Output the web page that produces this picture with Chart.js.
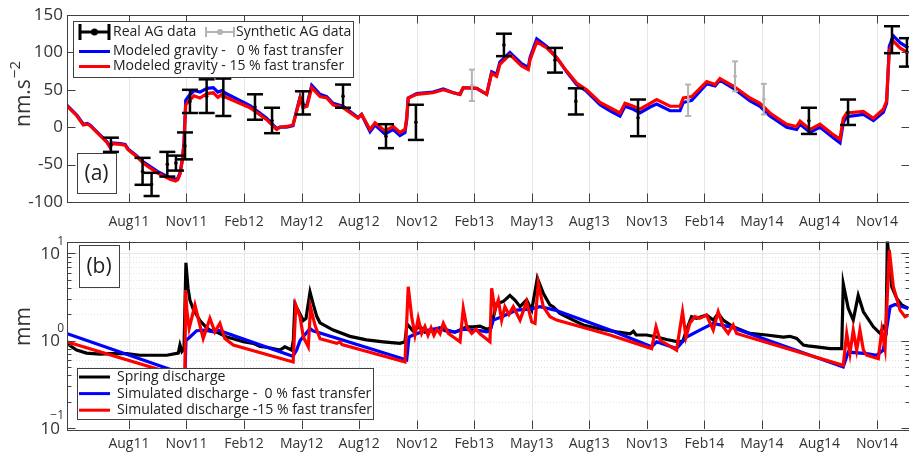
<!DOCTYPE html>
<html>
<head>
<meta charset="utf-8">
<title>AG gravity and spring discharge</title>
<script src="https://cdn.jsdelivr.net/npm/chart.js@4.4.1/dist/chart.umd.min.js"></script>
<style>
  html, body { margin: 0; padding: 0; background: #fff; overflow: hidden; }
  .panel { position: absolute; left: 0; width: 912px; }
  #boxA { top: 0; height: 232px; }
  #boxB { top: 232px; height: 224px; }
</style>
</head>
<body>
<div class="panel" id="boxA"><canvas id="gravity"></canvas></div>
<div class="panel" id="boxB"><canvas id="discharge"></canvas></div>
<script>
// time is in months counted from Jan 2011 (so Aug11 = 7)
const tickMonths = [7, 10, 13, 16, 19, 22, 25, 28, 31, 34, 37, 40, 43, 46];
const tickLabels = ['Aug11', 'Nov11', 'Feb12', 'May12', 'Aug12', 'Nov12', 'Feb13',
                    'May13', 'Aug13', 'Nov13', 'Feb14', 'May14', 'Aug14', 'Nov14'];
const gravTicks = [-100, -50, 0, 50, 100, 150];
const flowTicks = [0.1, 1, 10];
const flowTickExp = ['\u22121', '0', '1'];

// (a) modelled gravity, nm.s-2
const gravT = [3.75, 4.29, 4.62, 4.83, 4.97, 5.84, 6.02, 6.11, 6.55, 6.80,
  6.95, 7.35, 7.78, 8.48, 9.17, 9.43, 9.55, 9.66, 9.78, 9.87,
  9.96, 10.13, 10.39, 10.70, 11.07, 11.40, 11.64, 11.85, 12.06, 13.31,
  14.18, 14.70, 14.87, 15.22, 15.55, 15.74, 15.92, 16.07, 16.28, 16.53,
  16.96, 17.31, 17.64, 18.16, 18.94, 19.13, 19.57, 19.83, 20.35, 20.78,
  21.13, 21.39, 21.48, 21.56, 22.00, 22.85, 23.39, 23.91, 24.26, 24.43,
  25.13, 25.65, 25.91, 26.17, 26.34, 26.86, 27.47, 27.82, 27.91, 28.26,
  28.78, 29.30, 29.82, 30.34, 30.86, 31.56, 32.08, 32.60, 32.86, 33.30,
  33.64, 34.17, 34.51, 35.21, 35.73, 35.90, 36.34, 37.12, 37.56, 37.81,
  38.51, 39.38, 39.90, 40.42, 41.29, 41.81, 41.99, 42.51, 43.03, 43.72,
  44.07, 44.24, 44.42, 45.29, 45.81, 46.33, 46.50, 46.64, 46.85, 47.20,
  47.63];
const gravFast15 = [29, 15, 3, 4, 2, -20, -27, -22, -23, -24,
  -30, -38, -49, -61, -70, -72, -70, -63, -45, -23,
  30, 35, 42, 39, 45, 46, 40, 44, 40, 26,
  10, -3, 0, 1, 3, 21, 39, 26, 28, 53,
  41, 39, 30, 26, 12, 17, -3, 6, -5, 1,
  -7, -3, 12, 39, 44, 46, 50, 46, 44, 53,
  52, 44, 72, 68, 84, 97, 82, 77, 90, 114,
  106, 93, 75, 59, 50, 33, 26, 19, 32, 28,
  24, 32, 37, 28, 28, 39, 41, 61, 57, 65,
  55, 39, 32, 19, 4, 1, 8, -3, 4, -10,
  -16, 12, 19, 21, 12, 24, 35, 102, 115, 106,
  99];
const gravFast0 = [30, 16, 4, 5, 3, -19, -26, -21, -22, -23,
  -29, -37, -47, -59, -68, -70, -68, -61, -44, -20,
  36, 42, 49, 47, 52, 53, 47, 49, 45, 29,
  12, -2, 0, 0, 2, 22, 40, 28, 30, 56,
  44, 41, 32, 28, 13, 17, -6, 3, -9, -3,
  -11, -7, 10, 39, 45, 47, 51, 46, 44, 53,
  52, 44, 74, 71, 87, 100, 85, 80, 93, 118,
  108, 93, 74, 57, 48, 30, 22, 15, 28, 24,
  19, 27, 31, 22, 22, 33, 36, 58, 55, 63,
  52, 35, 28, 15, 0, -3, 4, -7, 0, -14,
  -21, 6, 14, 17, 9, 20, 32, 108, 122, 113,
  106];

// absolute gravimeter measurements (bar ends)
const agT = [6.06, 7.71, 8.18, 9.00, 9.45, 9.92, 10.18, 11.05, 11.92, 13.57, 14.46, 16.07,
  18.16, 20.40, 21.96, 26.55, 29.21, 30.30, 33.54, 42.45, 44.49, 46.78, 47.56];
const agLow = [-33, -77, -92, -66, -58, -43, 19, 19, 15, 10, -8, 17,
  26, -28, -17, 95, 73, 17, -12, -9, 3, 99, 81];
const agHigh = [-14, -41, -61, -33, -38, -7, 50, 64, 65, 44, 26, 48,
  57, 4, 30, 125, 106, 52, 37, 26, 37, 135, 119];
const synT = [24.88, 36.15, 38.60, 40.10];
const synLow = [35, 15, 48, 17];
const synHigh = [77, 57, 88, 58];

// (b) discharge, mm  [month, value]
const springDischarge = [[3.75, 0.93], [4.27, 0.78], [4.79, 0.72], [5.49, 0.70], [6.01, 0.71],
  [6.88, 0.71], [7.57, 0.68], [8.97, 0.68], [9.57, 0.72], [9.66, 0.89], [9.76, 0.75], [9.87, 0.80],
  [9.97, 7.8], [10.08, 4.0], [10.18, 2.9], [10.35, 2.3], [10.70, 1.7], [11.05, 1.4], [11.22, 1.32],
  [11.57, 1.25], [12.09, 1.1], [12.44, 1.05], [12.96, 0.97], [13.48, 0.93], [13.83, 0.86],
  [14.18, 0.84], [14.87, 0.78], [15.13, 0.85], [15.48, 0.78], [15.57, 1.0], [15.65, 2.6],
  [15.83, 2.2], [16.09, 1.7], [16.23, 1.8], [16.44, 3.6], [16.61, 2.6], [16.79, 1.9], [16.96, 1.6],
  [17.65, 1.32], [18.52, 1.12], [19.39, 1.02], [20.26, 0.97], [21.13, 0.93], [21.39, 0.97],
  [21.48, 1.44], [21.56, 1.5], [21.80, 1.3], [22.17, 1.45], [22.43, 1.25], [22.87, 1.32],
  [23.21, 1.4], [23.48, 1.3], [24.00, 1.25], [24.61, 1.44], [24.95, 1.44], [25.30, 1.47],
  [25.65, 1.35], [25.87, 1.4], [26.17, 2.67], [26.51, 2.8], [26.86, 3.3], [27.12, 2.92],
  [27.39, 2.45], [27.73, 2.92], [28.00, 2.24], [28.29, 5.2], [28.60, 3.5], [28.95, 2.56],
  [29.12, 2.45], [29.47, 2.05], [29.82, 1.88], [30.16, 1.72], [30.69, 1.51], [31.56, 1.36],
  [32.43, 1.26], [33.13, 1.2], [33.30, 1.28], [33.44, 1.16], [33.99, 1.16], [34.51, 1.1],
  [35.03, 1.03], [35.64, 0.97], [35.88, 0.99], [36.07, 1.32], [36.33, 1.88], [36.59, 1.8],
  [37.11, 1.96], [37.46, 1.72], [37.72, 2.05], [37.98, 1.72], [38.50, 1.44], [39.37, 1.21],
  [40.24, 1.16], [41.11, 1.1], [41.46, 1.12], [41.81, 1.06], [42.16, 0.89], [42.40, 0.87],
  [42.85, 0.85], [43.55, 0.81], [44.16, 0.81], [44.24, 4.5], [44.50, 2.35], [44.76, 1.72],
  [45.02, 3.3], [45.29, 2.14], [45.81, 1.44], [46.16, 1.21], [46.33, 1.44], [46.47, 1.3],
  [46.54, 14], [46.77, 4.15], [47.03, 3.05], [47.29, 2.56], [47.63, 2.34]];
const simFast0 = [[3.75, 1.21], [9.92, 0.41], [9.97, 1.0], [10.18, 1.1], [10.53, 1.3], [10.96, 1.32],
  [11.40, 1.26], [11.66, 1.32], [15.39, 0.68], [15.55, 0.66], [15.74, 0.78], [15.92, 1.0],
  [16.44, 1.38], [16.59, 1.3], [21.48, 0.6], [21.60, 1.1], [21.82, 1.16], [22.43, 1.3],
  [23.21, 1.4], [24.00, 1.25], [24.40, 1.35], [25.30, 1.3], [25.65, 1.26], [25.82, 1.3],
  [26.00, 1.72], [26.50, 1.9], [27.21, 2.24], [27.91, 2.3], [28.43, 2.45], [29.21, 2.24],
  [32.08, 1.32], [34.25, 0.85], [34.51, 0.97], [35.55, 0.81], [36.07, 1.1], [36.76, 1.32],
  [37.46, 1.58], [38.33, 1.44], [44.24, 0.5], [44.50, 0.74], [45.46, 0.71], [45.98, 0.68],
  [46.33, 0.78], [46.68, 2.45], [46.94, 2.6], [47.63, 2.34]];
const simFast15 = [[3.75, 0.97], [9.92, 0.38], [9.95, 3.8], [10.02, 2.2], [10.14, 1.38],
  [10.44, 2.56], [10.87, 1.06], [11.22, 1.8], [11.48, 1.26], [11.74, 1.58], [12.00, 1.06],
  [12.44, 0.89], [15.56, 0.57], [15.70, 2.56], [15.92, 1.88], [16.09, 1.1], [16.35, 0.85],
  [16.47, 2.4], [16.70, 1.5], [16.96, 1.05], [17.83, 0.93], [18.00, 0.97], [18.11, 0.9],
  [21.39, 0.57], [21.56, 4.15], [21.74, 1.88], [21.91, 1.16], [22.08, 1.8], [22.26, 1.21],
  [22.43, 1.45], [22.59, 1.15], [22.75, 1.4], [22.90, 1.15], [23.06, 1.35], [23.22, 1.2],
  [23.39, 1.58], [23.65, 1.21], [23.91, 1.1], [24.26, 0.97], [24.43, 2.34], [24.61, 1.44],
  [24.87, 1.21], [25.10, 1.35], [25.30, 1.2], [25.82, 0.97], [25.91, 3.98], [26.08, 2.24],
  [26.26, 2.92], [26.43, 1.72], [26.60, 2.45], [26.81, 2.0], [27.04, 2.45], [27.39, 1.72],
  [27.73, 2.79], [28.00, 1.64], [28.17, 1.58], [28.34, 4.54], [28.60, 2.45], [28.95, 1.88],
  [29.30, 1.72], [32.08, 1.16], [34.25, 0.81], [34.48, 1.44], [34.69, 1.01], [35.55, 0.78],
  [35.86, 2.14], [36.04, 1.1], [36.24, 1.58], [36.50, 1.88], [36.76, 1.8], [37.11, 1.96],
  [37.46, 1.32], [37.72, 2.14], [37.98, 1.44], [38.24, 1.21], [38.50, 1.51], [38.68, 1.21],
  [44.24, 0.52], [44.42, 1.21], [44.59, 0.71], [44.76, 1.32], [44.94, 0.78], [45.11, 1.32],
  [45.29, 0.78], [45.46, 0.68], [46.07, 0.62], [46.25, 1.32], [46.42, 0.81], [46.64, 11],
  [46.85, 4.15], [47.20, 2.24], [47.46, 1.88], [47.63, 1.96]];

const FONT = '"Open Sans", "Liberation Sans", sans-serif';
const INK = '#333';
const FRAME = '#404040';

function hline(ctx, x1, x2, y) { ctx.beginPath(); ctx.moveTo(x1, y); ctx.lineTo(x2, y); ctx.stroke(); }
function vline(ctx, x, y1, y2) { ctx.beginPath(); ctx.moveTo(x, y1); ctx.lineTo(x, y2); ctx.stroke(); }
const snap = v => Math.round(v) + 0.5;

function logMinors() {
  const out = [];
  [0.1, 1].forEach(d => { for (let k = 2; k <= 9; k++) out.push(d * k); });
  return out;
}

function drawGrid(chart, logGrid) {
  const { ctx, chartArea: a, scales: { x, y } } = chart;
  ctx.save();
  ctx.lineWidth = 1;
  ctx.strokeStyle = '#e6e6e6';
  tickMonths.forEach(m => vline(ctx, snap(x.getPixelForValue(m)), a.top, a.bottom));
  if (logGrid) {
    [1, 10].forEach(v => hline(ctx, a.left, a.right, snap(y.getPixelForValue(v))));
    ctx.strokeStyle = '#e2e2e2';
    ctx.setLineDash([1, 2]);
    logMinors().forEach(v => hline(ctx, a.left, a.right, snap(y.getPixelForValue(v))));
  }
  ctx.restore();
}

function drawFrame(chart, yMajor, yMinor) {
  const { ctx, chartArea: a, scales: { x, y } } = chart;
  ctx.save();
  ctx.strokeStyle = FRAME;
  ctx.lineWidth = 1;
  tickMonths.forEach(m => {
    const px = snap(x.getPixelForValue(m));
    vline(ctx, px, a.bottom, a.bottom - 8.5);
    vline(ctx, px, a.top, a.top + 8.5);
  });
  yMajor.forEach(v => {
    const py = snap(y.getPixelForValue(v));
    hline(ctx, a.left, a.left + 8.5, py);
    hline(ctx, a.right - 8.5, a.right, py);
  });
  yMinor.forEach(v => {
    const py = snap(y.getPixelForValue(v));
    hline(ctx, a.left, a.left + 4.5, py);
    hline(ctx, a.right - 4.5, a.right, py);
  });
  ctx.strokeRect(snap(a.left), snap(a.top), Math.round(a.right - a.left), Math.round(a.bottom - a.top));
  ctx.restore();
}

function drawTag(ctx, text, x, y, w, h) {
  ctx.save();
  ctx.fillStyle = '#fff';
  ctx.fillRect(x, y, w, h);
  ctx.strokeStyle = FRAME;
  ctx.lineWidth = 1;
  ctx.strokeRect(x + 0.5, y + 0.5, w, h);
  ctx.fillStyle = '#222';
  ctx.font = '21px ' + FONT;
  ctx.textAlign = 'center';
  ctx.textBaseline = 'middle';
  ctx.fillText(text, x + w / 2, y + h / 2 + 1);
  ctx.restore();
}

function drawYTitle(ctx, main, sup, baseX, centerY) {
  ctx.save();
  ctx.font = '21px ' + FONT;
  const w1 = ctx.measureText(main).width;
  ctx.font = '15px ' + FONT;
  const w2 = sup ? ctx.measureText(sup).width + 1 : 0;
  ctx.translate(baseX, centerY + (w1 + w2) / 2);
  ctx.rotate(-Math.PI / 2);
  ctx.fillStyle = INK;
  ctx.textAlign = 'left';
  ctx.textBaseline = 'alphabetic';
  ctx.font = '21px ' + FONT;
  ctx.fillText(main, 0, 0);
  if (sup) {
    ctx.font = '15px ' + FONT;
    ctx.fillText(sup, w1 + 1, -10);
  }
  ctx.restore();
}

function errorBar(ctx, px, pLow, pHigh, cap, dot) {
  vline(ctx, px, pLow, pHigh);
  hline(ctx, px - cap, px + cap, pLow);
  hline(ctx, px - cap, px + cap, pHigh);
  ctx.beginPath();
  ctx.arc(px, (pLow + pHigh) / 2, dot, 0, Math.PI * 2);
  ctx.fill();
}

function drawBars(chart, ts, lows, highs, color, width, cap) {
  const { ctx, chartArea: a, scales: { x, y } } = chart;
  ctx.save();
  ctx.beginPath();
  ctx.rect(a.left, a.top, a.right - a.left, a.bottom - a.top);
  ctx.clip();
  ctx.strokeStyle = color;
  ctx.fillStyle = color;
  ctx.lineWidth = width;
  ts.forEach((t, i) => {
    errorBar(ctx, x.getPixelForValue(t), y.getPixelForValue(lows[i]), y.getPixelForValue(highs[i]), cap, 1.8);
  });
  ctx.restore();
}

function legendText(ctx, text, x, y) {
  ctx.fillStyle = '#222';
  ctx.font = '14px ' + FONT;
  ctx.textAlign = 'left';
  ctx.textBaseline = 'middle';
  ctx.fillText(text, x, y);
}

function legendLine(ctx, color, y) {
  ctx.strokeStyle = color;
  ctx.lineWidth = 3;
  hline(ctx, 79, 110, y);
}

function drawGravityLegend(chart) {
  const ctx = chart.ctx;
  const ds = chart.data.datasets;
  ctx.save();
  ctx.fillStyle = '#fff';
  ctx.fillRect(73, 21, 280, 56);
  ctx.strokeStyle = FRAME;
  ctx.lineWidth = 1;
  ctx.strokeRect(73.5, 21.5, 280, 56);

  // error bar symbols lie on their side in the legend
  ctx.strokeStyle = '#000'; ctx.fillStyle = '#000'; ctx.lineWidth = 3;
  hline(ctx, 80, 109, 32); vline(ctx, 80, 24, 40); vline(ctx, 109, 24, 40);
  ctx.beginPath(); ctx.arc(94.5, 32, 3.5, 0, Math.PI * 2); ctx.fill();
  legendText(ctx, 'Real AG data', 113, 32);
  ctx.strokeStyle = '#b4b4b4'; ctx.fillStyle = '#b4b4b4'; ctx.lineWidth = 2;
  hline(ctx, 206, 234, 32); vline(ctx, 206, 27, 37); vline(ctx, 234, 27, 37);
  ctx.beginPath(); ctx.arc(220, 32, 3, 0, Math.PI * 2); ctx.fill();
  legendText(ctx, 'Synthetic AG data', 236, 32);

  legendLine(ctx, ds[1].borderColor, 51.5);
  legendText(ctx, ds[1].label, 113, 51.5);
  legendLine(ctx, ds[0].borderColor, 66.5);
  legendText(ctx, ds[0].label, 113, 66.5);
  ctx.restore();
}

function drawDischargeLegend(chart) {
  const ctx = chart.ctx;
  const ds = chart.data.datasets;
  ctx.save();
  ctx.fillStyle = '#fff';
  ctx.fillRect(77, 136, 296, 51);
  ctx.strokeStyle = FRAME;
  ctx.lineWidth = 1;
  ctx.strokeRect(77.5, 136.5, 296, 51);
  [ds[2], ds[1], ds[0]].forEach((d, i) => {
    const yy = 145 + i * 16.6;
    legendLine(ctx, d.borderColor, yy);
    legendText(ctx, d.label, 117, yy);
  });
  ctx.restore();
}

function drawFlowLabels(chart) {
  const { ctx, scales: { y } } = chart;
  ctx.save();
  ctx.fillStyle = INK;
  ctx.textAlign = 'right';
  ctx.textBaseline = 'middle';
  flowTicks.forEach((v, i) => {
    const py = y.getPixelForValue(v);
    ctx.font = '17px ' + FONT;
    ctx.fillText('10', 60, py + 1);
    ctx.font = '12px ' + FONT;
    ctx.fillText(flowTickExp[i], 64, py - 12);
  });
  ctx.restore();
}

const gravityDecor = {
  id: 'gravityDecor',
  beforeDatasetsDraw(chart) { drawGrid(chart, false); },
  afterDatasetsDraw(chart) {
    drawBars(chart, synT, synLow, synHigh, '#b4b4b4', 2, 3);
    drawBars(chart, agT, agLow, agHigh, '#000', 2.5, 8);
  },
  afterDraw(chart) {
    drawFrame(chart, gravTicks, []);
    drawTag(chart.ctx, '(a)', 77, 153, 39, 40);
    drawGravityLegend(chart);
    drawYTitle(chart.ctx, 'nm.s', '\u22122', 30, 94);
  }
};

const dischargeDecor = {
  id: 'dischargeDecor',
  beforeDatasetsDraw(chart) { drawGrid(chart, true); },
  afterDraw(chart) {
    drawFrame(chart, flowTicks, logMinors());
    drawFlowLabels(chart);
    drawTag(chart.ctx, '(b)', 79, 13, 40, 42);
    drawDischargeLegend(chart);
    drawYTitle(chart.ctx, 'mm', '', 30, 94.5);
  }
};

const pairs = (xs, ys) => xs.map((t, i) => ({ x: t, y: ys[i] }));
const points = list => list.map(p => ({ x: p[0], y: p[1] }));

const lineStyle = { pointRadius: 0, borderWidth: 3.2, tension: 0, clip: 0, fill: false };

function timeAxis(height, pad) {
  return {
    type: 'linear',
    min: 3.77,
    max: 47.72,
    grid: { display: false, drawTicks: false },
    border: { display: false },
    afterBuildTicks: s => { s.ticks = tickMonths.map(v => ({ value: v })); },
    afterFit: s => { s.height = height; },
    ticks: {
      autoSkip: false,
      maxRotation: 0,
      padding: pad,
      color: INK,
      font: { family: FONT, size: 14 },
      callback: v => tickLabels[tickMonths.indexOf(v)]
    }
  };
}

new Chart(document.getElementById('gravity'), {
  type: 'line',
  data: {
    datasets: [
      Object.assign({ label: 'Modeled gravity - 15 % fast transfer', data: pairs(gravT, gravFast15),
        borderColor: '#ff0000', order: 0 }, lineStyle),
      Object.assign({ label: 'Modeled gravity -   0 % fast transfer', data: pairs(gravT, gravFast0),
        borderColor: '#0000ff', order: 1 }, lineStyle)
    ]
  },
  options: {
    animation: false,
    responsive: true,
    maintainAspectRatio: false,
    layout: { padding: { top: 15, right: 2, left: 0, bottom: 0 } },
    plugins: { legend: { display: false }, tooltip: { enabled: false } },
    scales: {
      x: timeAxis(30, 12),
      y: {
        min: -100,
        max: 150,
        grid: { display: false, drawTicks: false },
        border: { display: false },
        afterBuildTicks: s => { s.ticks = gravTicks.map(v => ({ value: v })); },
        afterFit: s => { s.width = 67; },
        ticks: { padding: 4, color: INK, font: { family: FONT, size: 17 } }
      }
    }
  },
  plugins: [gravityDecor]
});

new Chart(document.getElementById('discharge'), {
  type: 'line',
  data: {
    datasets: [
      Object.assign({ label: 'Simulated discharge -15 % fast transfer', data: points(simFast15),
        borderColor: '#ff0000', order: 0 }, lineStyle),
      Object.assign({ label: 'Simulated discharge -  0 % fast transfer', data: points(simFast0),
        borderColor: '#0000ff', order: 1 }, lineStyle),
      Object.assign({ label: 'Spring discharge', data: points(springDischarge),
        borderColor: '#000000', order: 2 }, lineStyle)
    ]
  },
  options: {
    animation: false,
    responsive: true,
    maintainAspectRatio: false,
    layout: { padding: { top: 9.5, right: 2, left: 0, bottom: 0 } },
    plugins: { legend: { display: false }, tooltip: { enabled: false } },
    scales: {
      x: timeAxis(27, 7),
      y: {
        type: 'logarithmic',
        min: 0.097,
        max: 13.7,
        grid: { display: false, drawTicks: false },
        border: { display: false },
        afterBuildTicks: s => { s.ticks = flowTicks.map(v => ({ value: v })); },
        afterFit: s => { s.width = 67; },
        ticks: { display: false }
      }
    }
  },
  plugins: [dischargeDecor]
});
</script>
</body>
</html>
